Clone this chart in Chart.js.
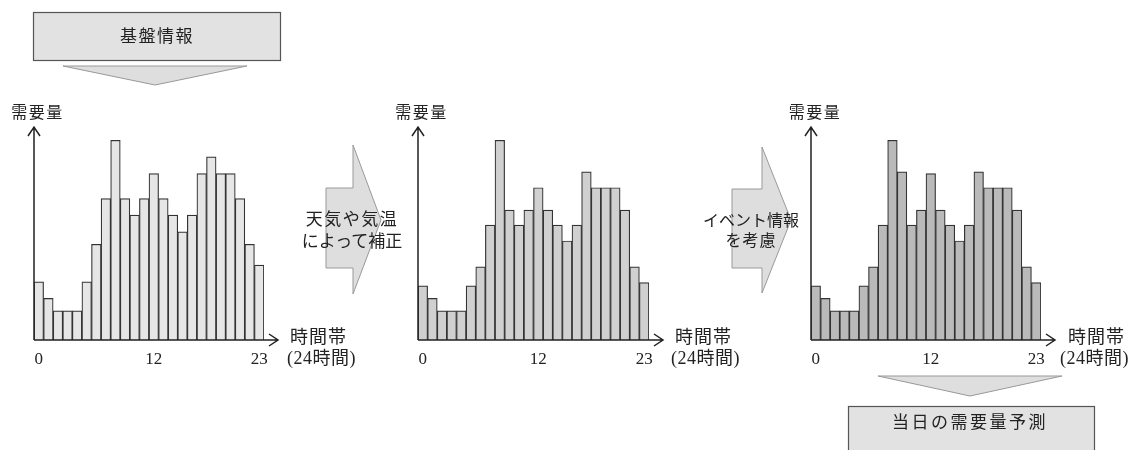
<!DOCTYPE html>
<html>
<head>
<meta charset="utf-8">
<script src="https://cdn.jsdelivr.net/npm/chart.js@4.4.1/dist/chart.umd.min.js"></script>
<style>
  html, body { margin:0; padding:0; background:#fff; }
  #wrap { position:relative; width:1142px; height:450px; overflow:hidden; }
  canvas, svg { position:absolute; left:0; top:0; }
  .t { position:absolute; white-space:nowrap; color:#222; line-height:1;
       font-family:"Liberation Serif","Noto Sans CJK JP",serif; font-weight:400; }
</style>
</head>
<body>
<div id="wrap">
<svg width="1142" height="450">
  <rect x="33.5" y="12.5" width="247" height="48" fill="#e2e2e2" stroke="#555" stroke-width="1.2"/>
  <polygon points="63,66 247,66 155,85" fill="#dedede" stroke="#999" stroke-width="1"/>
  <polygon points="326,188 353,188 353,145 381,220 353,294 353,268 326,268" fill="#dedede" stroke="#999" stroke-width="1"/>
  <polygon points="732,189 762,189 762,147 791,220 762,293 762,268 732,268" fill="#dedede" stroke="#999" stroke-width="1"/>
  <polygon points="878,376 1062,376 970,396" fill="#dedede" stroke="#999" stroke-width="1"/>
  <rect x="848.5" y="406.5" width="246" height="60" fill="#e2e2e2" stroke="#555" stroke-width="1.2"/>
</svg>
<canvas id="c1" width="1142" height="450"></canvas>
<canvas id="c2" width="1142" height="450"></canvas>
<canvas id="c3" width="1142" height="450"></canvas>
</div>
<script>
// ---- data ----
const hours = ['0','1','2','3','4','5','6','7','8','9','10','11','12','13','14','15','16','17','18','19','20','21','22','23'];
const tickLabels = ['0','12','23'];
const baseDemand      = [3.5,2.5,1.75,1.75,1.75,3.5,5.75,8.5,12,8.5,7.5,8.5,10,8.5,7.5,6.5,7.5,10,11,10,10,8.5,5.75,4.5];
const weatherAdjusted = [3.25,2.5,1.75,1.75,1.75,3.25,4.4,6.9,12,7.8,6.9,7.8,9.15,7.8,6.9,5.95,6.9,10.1,9.15,9.15,9.15,7.8,4.4,3.45];
const eventAdjusted   = [3.25,2.5,1.75,1.75,1.75,3.25,4.4,6.9,12,10.1,6.9,7.8,10,7.8,6.9,5.95,6.9,10.1,9.15,9.15,9.15,7.8,4.4,3.45];
const yMax = 12.8;

const axisArrows = {
  id: 'axisArrows',
  afterDatasetsDraw(chart) {
    const a = chart.chartArea, ctx = chart.ctx;
    ctx.save();
    ctx.strokeStyle = '#222';
    ctx.lineWidth = 1.5;
    ctx.beginPath();
    ctx.moveTo(a.left, a.bottom); ctx.lineTo(a.left, a.top);
    ctx.moveTo(a.left - 6, a.top + 9); ctx.lineTo(a.left, a.top); ctx.lineTo(a.left + 6, a.top + 9);
    const tip = a.right + 14;
    ctx.moveTo(a.left, a.bottom); ctx.lineTo(tip, a.bottom);
    ctx.moveTo(tip - 9, a.bottom - 6); ctx.lineTo(tip, a.bottom); ctx.lineTo(tip - 9, a.bottom + 6);
    ctx.stroke();
    ctx.restore();
  }
};

function makeChart(id, values, fill, padL, padR) {
  return new Chart(document.getElementById(id), {
    type: 'bar',
    data: { labels: hours, datasets: [{ data: values, backgroundColor: fill, borderColor: '#333',
      borderWidth: 1.2, categoryPercentage: 1, barPercentage: 1 }] },
    options: {
      responsive: false, animation: false,
      layout: { padding: { left: padL, right: padR, top: 127, bottom: 80 } },
      plugins: { legend: { display: false }, tooltip: { enabled: false } },
      scales: {
        x: {
          grid: { display: false, drawTicks: false }, border: { display: false },
          ticks: { autoSkip: false, maxRotation: 0, padding: 9, color: '#222',
            font: { family: 'Liberation Serif', size: 17 },
            callback: function(v) { const l = this.getLabelForValue(v); return tickLabels.includes(l) ? l : ''; } },
          afterFit(s) { s.height = 30; }
        },
        y: { display: false, min: 0, max: yMax }
      }
    },
    plugins: [axisArrows]
  });
}
makeChart('c1', baseDemand, '#e6e6e6', 34, 1142 - 264);
makeChart('c2', weatherAdjusted, '#d0d0d0', 418, 1142 - 649);
makeChart('c3', eventAdjusted, '#bababa', 811, 1142 - 1041);

// ---- text labels ----
const labels = [
  ['基盤情報', 157, 36, 17, 'center', 1.5],
  ['需要量', 37.5, 113, 16, 'center', 1.5],
  ['需要量', 421.5, 113, 16, 'center', 1.5],
  ['需要量', 815, 113, 16, 'center', 1.5],
  ['時間帯', 290, 337, 18, 'left', 1],
  ['(24時間)', 287, 358, 18, 'left', 0.5],
  ['時間帯', 675, 337, 18, 'left', 1],
  ['(24時間)', 671, 358, 18, 'left', 0.5],
  ['時間帯', 1068, 337, 18, 'left', 1],
  ['(24時間)', 1060, 358, 18, 'left', 0.5],
  ['天気や気温', 352, 219, 17, 'center', 1.5],
  ['によって補正', 352, 241, 17, 'center', 0],
  ['イベント情報', 751, 221, 16, 'center', 0],
  ['を考慮', 751, 241, 16, 'center', 1],
  ['当日の需要量予測', 970, 422, 17, 'center', 2.5]
];
const wrap = document.getElementById('wrap');
labels.forEach(([txt, x, y, fs, align, ls]) => {
  const d = document.createElement('div');
  d.className = 't';
  d.textContent = txt;
  d.style.fontSize = fs + 'px';
  d.style.letterSpacing = ls + 'px';
  d.style.top = (y - fs / 2) + 'px';
  d.style.left = x + 'px';
  if (align === 'center') d.style.transform = 'translateX(-50%)';
  wrap.appendChild(d);
});
</script>
</body>
</html>
